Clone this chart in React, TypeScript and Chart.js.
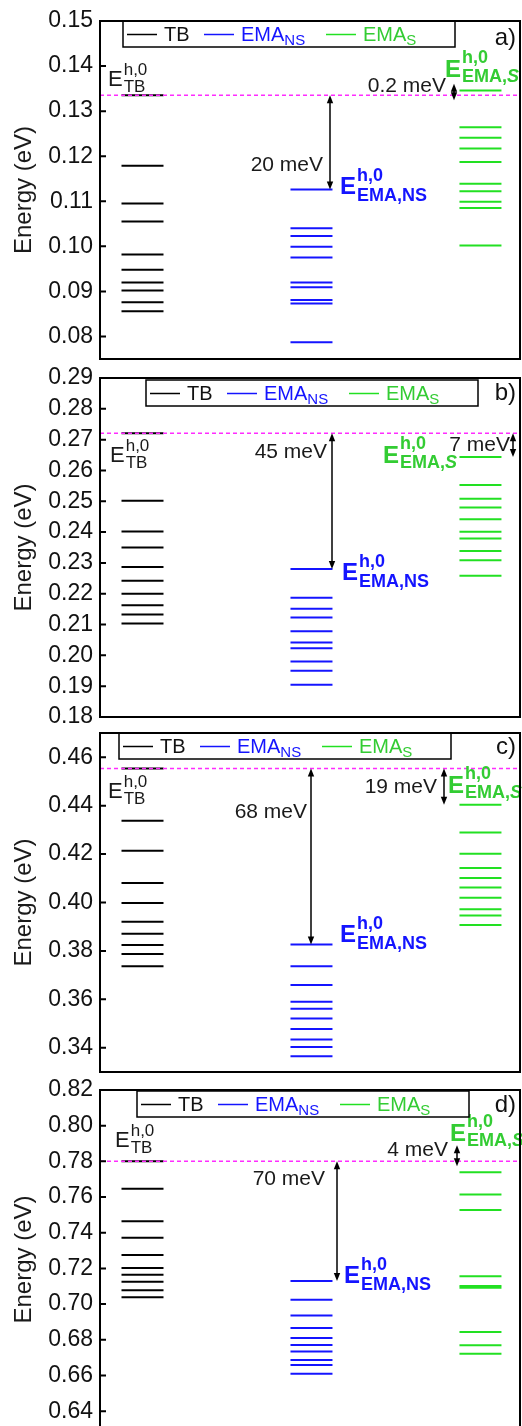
import React, { useEffect, useRef } from 'react';
import { Chart, registerables } from 'chart.js';

Chart.register(...registerables);

const FONT = "'Liberation Sans', Arial, Helvetica, sans-serif";
const BLACK = '#000000';
const BLUE = '#1414ff';
const GREEN = '#22e022';
const GREEN_TEXT = '#33cc33';
const MAGENTA = '#ff2cff';

// ---------- data (energies in eV) ----------
const tbA = [0.1335, 0.1179, 0.1095, 0.1055, 0.0982, 0.0948, 0.092, 0.0902, 0.0876, 0.0856];
const nsA = [0.1126, 0.104, 0.1023, 0.0999, 0.0975, 0.092, 0.0909, 0.0881, 0.0873, 0.0787];
const sA = [0.1346, 0.1264, 0.1241, 0.1217, 0.1187, 0.1139, 0.1122, 0.1099, 0.1085, 0.1002];
const ticksA = [0.08, 0.09, 0.1, 0.11, 0.12, 0.13, 0.14, 0.15];

const tbB = [0.2721, 0.2502, 0.2402, 0.235, 0.2287, 0.2242, 0.22, 0.2163, 0.2133, 0.2103];
const nsB = [0.228, 0.2187, 0.2151, 0.2123, 0.2078, 0.2042, 0.2023, 0.198, 0.195, 0.1905];
const sB = [0.2644, 0.2553, 0.2508, 0.248, 0.2442, 0.2401, 0.2379, 0.2339, 0.2309, 0.2258];
const ticksB = [0.18, 0.19, 0.2, 0.21, 0.22, 0.23, 0.24, 0.25, 0.26, 0.27, 0.28, 0.29];

const tbC = [0.4553, 0.4338, 0.4214, 0.4081, 0.3998, 0.392, 0.3871, 0.3824, 0.3787, 0.3737];
const nsC = [0.3827, 0.3737, 0.3659, 0.359, 0.3561, 0.3521, 0.3478, 0.3434, 0.3403, 0.3365];
const sC = [0.4404, 0.4289, 0.4201, 0.4142, 0.4101, 0.4062, 0.402, 0.3972, 0.3946, 0.3907];
const ticksC = [0.34, 0.36, 0.38, 0.4, 0.42, 0.44, 0.46];

const tbD = [0.78, 0.7646, 0.7464, 0.7372, 0.7275, 0.7203, 0.7164, 0.7125, 0.7078, 0.7039];
const nsD = [0.713, 0.7024, 0.6936, 0.6866, 0.681, 0.6771, 0.6734, 0.6687, 0.6659, 0.6609];
const sD = [0.7739, 0.7615, 0.7527, 0.7156, 0.7101, 0.7091, 0.6844, 0.6769, 0.6722];
const ticksD = [0.64, 0.66, 0.68, 0.7, 0.72, 0.74, 0.76, 0.78, 0.8, 0.82];

const gapLabels = ['20 meV', '45 meV', '68 meV', '70 meV'];
const smallGapLabels = ['0.2 meV', '7 meV', '19 meV', '4 meV'];
const panelLetters = ['a)', 'b)', 'c)', 'd)'];

// ---------- layout (pixels / positions, not data) ----------
const PAD_TOP = 24;
const PAD_BOTTOM = 24;

type Panel = {
  tb: number[]; ns: number[]; s: number[]; ticks: number[];
  min: number; max: number; top: number; bottom: number;
  letter: string; letterY: number;
  legendX: number; legendDy: number;
  bigArrowX: number; bigLabel: string; bigLabelX: number; bigLabelY: number;
  smallArrowX: number; smallFrom: number | null; smallTo: number | null;
  smallLabel: string; smallLabelX: number; smallLabelY: number;
  eTB: [number, number]; eNS: [number, number]; eS: [number, number];
};

const panels: Panel[] = [
  {
    tb: tbA, ns: nsA, s: sA, ticks: ticksA, min: 0.075, max: 0.15, top: 21, bottom: 359,
    letter: panelLetters[0], letterY: 0.1461, legendX: 123, legendDy: 0,
    bigArrowX: 330, bigLabel: gapLabels[0], bigLabelX: 323, bigLabelY: 0.1179,
    smallArrowX: 454, smallFrom: 0.1361, smallTo: 0.1324, smallLabel: smallGapLabels[0], smallLabelX: 446, smallLabelY: 0.1355,
    eTB: [108, 0.1355], eNS: [340, 0.1117], eS: [445, 0.1375],
  },
  {
    tb: tbB, ns: nsB, s: sB, ticks: ticksB, min: 0.18, max: 0.29, top: 378, bottom: 717,
    letter: panelLetters[1], letterY: 0.2851, legendX: 146, legendDy: 2,
    bigArrowX: 332, bigLabel: gapLabels[1], bigLabelX: 327, bigLabelY: 0.2658,
    smallArrowX: 513, smallFrom: null, smallTo: null, smallLabel: smallGapLabels[1], smallLabelX: 510, smallLabelY: 0.2683,
    eTB: [110, 0.2629], eNS: [342, 0.2243], eS: [383, 0.2625],
  },
  {
    tb: tbC, ns: nsC, s: sC, ticks: ticksC, min: 0.33, max: 0.47, top: 733, bottom: 1072,
    letter: panelLetters[2], letterY: 0.464, legendX: 119, legendDy: 0,
    bigArrowX: 311, bigLabel: gapLabels[2], bigLabelX: 307, bigLabelY: 0.4372,
    smallArrowX: 444, smallFrom: null, smallTo: null, smallLabel: smallGapLabels[2], smallLabelX: 437, smallLabelY: 0.4476,
    eTB: [108, 0.4433], eNS: [340, 0.3838], eS: [448, 0.4454],
  },
  {
    tb: tbD, ns: nsD, s: sD, ticks: ticksD, min: 0.63, max: 0.82, top: 1090, bottom: 1429,
    letter: panelLetters[3], letterY: 0.8113, legendX: 137, legendDy: 1,
    bigArrowX: 337, bigLabel: gapLabels[3], bigLabelX: 325, bigLabelY: 0.7698,
    smallArrowX: 457, smallFrom: 0.789, smallTo: 0.7773, smallLabel: smallGapLabels[3], smallLabelX: 448, smallLabelY: 0.7862,
    eTB: [115, 0.7879], eNS: [344, 0.7117], eS: [450, 0.7914],
  },
];

function drawArrow(ctx: CanvasRenderingContext2D, x: number, y1: number, y2: number) {
  const top = Math.min(y1, y2);
  const bot = Math.max(y1, y2);
  const head = 8;
  const hw = 3.2;
  ctx.save();
  ctx.strokeStyle = BLACK;
  ctx.fillStyle = BLACK;
  ctx.lineWidth = 1.5;
  ctx.beginPath();
  ctx.moveTo(x, top + head - 1);
  ctx.lineTo(x, bot - head + 1);
  ctx.stroke();
  ctx.beginPath();
  ctx.moveTo(x, top);
  ctx.lineTo(x - hw, top + head);
  ctx.lineTo(x + hw, top + head);
  ctx.closePath();
  ctx.fill();
  ctx.beginPath();
  ctx.moveTo(x, bot);
  ctx.lineTo(x - hw, bot - head);
  ctx.lineTo(x + hw, bot - head);
  ctx.closePath();
  ctx.fill();
  ctx.restore();
}

type Part = { t: string; italic?: boolean };

function drawE(
  ctx: CanvasRenderingContext2D, x: number, y: number, color: string, bold: boolean,
  size: number, small: number, sup: string, sub: Part[], rise: number, drop: number
) {
  const w = bold ? 'bold ' : '';
  ctx.save();
  ctx.fillStyle = color;
  ctx.textAlign = 'left';
  ctx.textBaseline = 'alphabetic';
  ctx.font = `${w}${size}px ${FONT}`;
  ctx.fillText('E', x, y);
  const ew = ctx.measureText('E').width;
  const sx = x + ew + 1;
  ctx.font = `${w}${small}px ${FONT}`;
  ctx.fillText(sup, sx, y - rise);
  let cx = sx;
  for (const p of sub) {
    ctx.font = `${p.italic ? 'italic ' : ''}${w}${small}px ${FONT}`;
    ctx.fillText(p.t, cx, y + drop);
    cx += ctx.measureText(p.t).width;
  }
  ctx.restore();
}

function drawLegend(ctx: CanvasRenderingContext2D, x: number, y: number) {
  const w = 332;
  const h = 26;
  ctx.save();
  ctx.fillStyle = '#ffffff';
  ctx.fillRect(x, y, w, h);
  ctx.strokeStyle = BLACK;
  ctx.lineWidth = 1.5;
  ctx.strokeRect(x, y, w, h);
  const items: { off: number; color: string; text: string; textColor: string; sub?: string }[] = [
    { off: 4, color: BLACK, text: 'TB', textColor: '#111111' },
    { off: 81, color: BLUE, text: 'EMA', textColor: BLUE, sub: 'NS' },
    { off: 203, color: GREEN, text: 'EMA', textColor: GREEN_TEXT, sub: 'S' },
  ];
  const ly = y + 13.5;
  for (const it of items) {
    ctx.strokeStyle = it.color;
    ctx.lineWidth = 1.5;
    ctx.beginPath();
    ctx.moveTo(x + it.off, ly);
    ctx.lineTo(x + it.off + 30, ly);
    ctx.stroke();
    ctx.fillStyle = it.textColor;
    ctx.textAlign = 'left';
    ctx.textBaseline = 'alphabetic';
    ctx.font = `20px ${FONT}`;
    const tx = x + it.off + 37;
    ctx.fillText(it.text, tx, y + 20);
    if (it.sub) {
      const tw = ctx.measureText(it.text).width;
      ctx.font = `15px ${FONT}`;
      ctx.fillText(it.sub, tx + tw, y + 24);
    }
  }
  ctx.restore();
}

function makeDecor(p: Panel) {
  return {
    id: 'panelDecor',
    afterDatasetsDraw(chart: any) {
      const ctx: CanvasRenderingContext2D = chart.ctx;
      const area = chart.chartArea;
      const ys = chart.scales.y;
      const Y = (v: number) => ys.getPixelForValue(v);
      const tbTop = p.tb[0];

      // dashed reference line at the TB ground level
      ctx.save();
      ctx.strokeStyle = MAGENTA;
      ctx.lineWidth = 1.5;
      ctx.setLineDash([4, 3]);
      ctx.beginPath();
      ctx.moveTo(area.left, Y(tbTop));
      ctx.lineTo(area.right, Y(tbTop));
      ctx.stroke();
      ctx.restore();

      // arrows
      drawArrow(ctx, p.bigArrowX, Y(tbTop), Y(p.ns[0]));
      const sf = p.smallFrom === null ? tbTop : p.smallFrom;
      const st = p.smallTo === null ? p.s[0] : p.smallTo;
      drawArrow(ctx, p.smallArrowX, Y(sf), Y(st));

      // gap labels
      ctx.save();
      ctx.fillStyle = '#1a1a1a';
      ctx.font = `21px ${FONT}`;
      ctx.textAlign = 'right';
      ctx.textBaseline = 'middle';
      ctx.fillText(p.bigLabel, p.bigLabelX, Y(p.bigLabelY));
      ctx.fillText(p.smallLabel, p.smallLabelX, Y(p.smallLabelY));
      ctx.font = `24px ${FONT}`;
      ctx.fillStyle = '#111111';
      ctx.fillText(p.letter, area.right - 4, Y(p.letterY));
      ctx.restore();

      // level labels
      drawE(ctx, p.eTB[0], Y(p.eTB[1]), '#1a1a1a', false, 22, 17, 'h,0', [{ t: 'TB' }], 11, 6);
      drawE(ctx, p.eNS[0], Y(p.eNS[1]), BLUE, true, 24, 18, 'h,0', [{ t: 'EMA,NS' }], 13, 7);
      drawE(ctx, p.eS[0], Y(p.eS[1]), GREEN_TEXT, true, 24, 18, 'h,0', [{ t: 'EMA,' }, { t: 'S', italic: true }], 14, 5);

      // legend
      drawLegend(ctx, p.legendX, area.top + p.legendDy);

      // frame and inward ticks
      ctx.save();
      ctx.strokeStyle = BLACK;
      ctx.lineWidth = 2;
      ctx.strokeRect(area.left, area.top, area.right - area.left, area.bottom - area.top);
      ctx.beginPath();
      for (const t of ys.ticks) {
        const y = Y(t.value);
        ctx.moveTo(area.left, y);
        ctx.lineTo(area.left + 6, y);
      }
      ctx.stroke();
      ctx.restore();
    },
  };
}

function PanelChart({ p }: { p: Panel }) {
  const ref = useRef<HTMLCanvasElement | null>(null);
  const h = p.bottom - p.top + PAD_TOP + PAD_BOTTOM;
  useEffect(() => {
    if (!ref.current) return;
    const level = (vals: number[], col: number) => vals.map((v) => ({ x: col, y: v }));
    const ds = (label: string, vals: number[], col: number, color: string) => ({
      label,
      data: level(vals, col),
      pointStyle: 'line',
      pointRadius: 21,
      pointHoverRadius: 21,
      borderColor: color,
      backgroundColor: color,
      pointBorderColor: color,
      borderWidth: 2,
      pointBorderWidth: 2,
      pointHoverBorderWidth: 2,
      showLine: false,
      clip: false,
    });
    const chart = new Chart(ref.current, {
      type: 'scatter',
      data: {
        datasets: [
          ds('TB', p.tb, 0, BLACK),
          ds('EMA_NS', p.ns, 1, BLUE),
          ds('EMA_S', p.s, 2, GREEN),
        ],
      },
      options: {
        animation: false,
        responsive: false,
        devicePixelRatio: 1,
        events: [],
        layout: { autoPadding: false, padding: { top: PAD_TOP, bottom: PAD_BOTTOM, left: 0, right: 2 } },
        plugins: { legend: { display: false }, tooltip: { enabled: false } },
        scales: {
          x: { type: 'linear', display: false, min: -0.2515, max: 2.234 },
          y: {
            type: 'linear',
            min: p.min,
            max: p.max,
            afterBuildTicks: (s: any) => {
              s.ticks = p.ticks.map((v) => ({ value: v }));
            },
            afterFit: (s: any) => {
              s.width = 100;
            },
            grid: { display: false, drawTicks: false },
            border: { display: false },
            ticks: {
              autoSkip: false,
              padding: 7,
              color: '#111111',
              font: { family: FONT, size: 23 },
              callback: (v: any) => Number(v).toFixed(2),
            },
            title: {
              display: true,
              text: 'Energy (eV)',
              color: '#1a1a1a',
              font: { family: FONT, size: 24 },
              padding: { top: 10, bottom: 0 },
            },
          },
        },
      } as any,
      plugins: [makeDecor(p)],
    });
    return () => chart.destroy();
  }, [p]);
  return (
    <canvas
      ref={ref}
      width={522}
      height={h}
      style={{ position: 'absolute', left: 0, top: p.top - PAD_TOP, width: 522, height: h, display: 'block' }}
    />
  );
}

export default function App() {
  return (
    <div
      style={{
        position: 'absolute',
        left: 0,
        top: 0,
        width: 522,
        height: 1426,
        overflow: 'hidden',
        background: '#ffffff',
      }}
    >
      {panels.map((p, i) => (
        <PanelChart key={i} p={p} />
      ))}
    </div>
  );
}
